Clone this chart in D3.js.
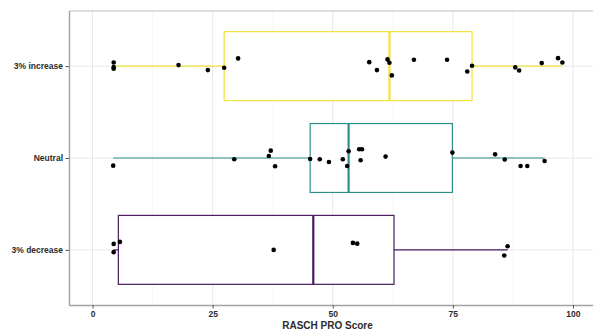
<!DOCTYPE html>
<html>
<head>
<meta charset="utf-8">
<script src="https://cdn.jsdelivr.net/npm/d3@7"></script>
<style>
  body { margin: 0; background: #fff; }
  svg { display: block; font-family: "Liberation Sans", Arial, sans-serif; }
  .tick text { font-weight: bold; fill: #2b2b2b; font-size: 8.5px; }
</style>
</head>
<body>
<svg width="593" height="331"></svg>
<script>
const categories = ["3% increase", "Neutral", "3% decrease"];
const colors = ["#f2e339", "#2c8f8a", "#4a1a5c"];
const xTicks = [0, 25, 50, 75, 100];

// scores per group, jitter in category units (positive = downward)
const increaseScores = [4.4, 4.4, 4.4, 17.9, 24.0, 27.4, 30.3, 57.6, 59.2, 61.4, 61.8, 62.3, 66.9, 73.8, 78.0, 79.0, 88.0, 88.8, 93.5, 96.9, 97.8];
const increaseJitter = [-0.040, 0.011, 0.028, -0.011, 0.043, 0.017, -0.084, -0.043, 0.043, -0.073, -0.037, 0.101, -0.070, -0.070, 0.058, -0.004, 0.014, 0.047, -0.033, -0.087, -0.040];
const neutralScores = [4.3, 29.5, 36.7, 37.1, 38.0, 45.3, 47.3, 49.2, 52.1, 53.0, 53.3, 55.5, 55.8, 56.1, 61.0, 74.9, 83.8, 85.8, 89.1, 90.5, 94.1];
const neutralJitter = [0.083, 0.014, -0.022, -0.080, 0.090, 0.011, 0.014, 0.043, 0.014, 0.087, -0.073, -0.095, 0.025, -0.095, -0.015, -0.059, -0.040, 0.017, 0.087, 0.087, 0.033];
const decreaseScores = [4.4, 4.4, 5.7, 37.7, 54.2, 55.1, 85.7, 86.4];
const decreaseJitter = [-0.065, 0.025, -0.087, 0.0, -0.076, -0.068, 0.062, -0.040];

const groups = [
  { name: categories[0], scores: increaseScores, jitter: increaseJitter, color: colors[0] },
  { name: categories[1], scores: neutralScores, jitter: neutralJitter, color: colors[1] },
  { name: categories[2], scores: decreaseScores, jitter: decreaseJitter, color: colors[2] }
];

const svg = d3.select("svg");
const mLeft = 69, mRight = 596, mTop = 11, mBottom = 305;

const x = d3.scaleLinear().domain([-4.9, 104.8]).range([mLeft, mRight]);
const y = d3.scalePoint().domain(categories).range([mTop, mBottom]).padding(0.6);
const step = y.step();

// grid
const grid = svg.append("g");
grid.selectAll(".minor").data(d3.range(-12.5, 110, 25).filter(v => x(v) > mLeft))
  .enter().append("line")
  .attr("x1", d => x(d)).attr("x2", d => x(d)).attr("y1", mTop).attr("y2", mBottom)
  .attr("stroke", "#f2f2f2").attr("stroke-width", 0.6);
grid.selectAll(".major").data(xTicks)
  .enter().append("line")
  .attr("x1", d => x(d)).attr("x2", d => x(d)).attr("y1", mTop).attr("y2", mBottom)
  .attr("stroke", "#e8e8e8").attr("stroke-width", 1);
grid.selectAll(".hy").data(categories)
  .enter().append("line")
  .attr("x1", mLeft).attr("x2", mRight).attr("y1", d => y(d)).attr("y2", d => y(d))
  .attr("stroke", "#e8e8e8").attr("stroke-width", 1);

// boxplots
const boxH = step * 0.75;
groups.forEach(g => {
  const s = g.scores.slice().sort(d3.ascending);
  const q1 = d3.quantile(s, 0.25), med = d3.quantile(s, 0.5), q3 = d3.quantile(s, 0.75);
  const iqr = q3 - q1;
  const lo = d3.min(s.filter(v => v >= q1 - 1.5 * iqr));
  const hi = d3.max(s.filter(v => v <= q3 + 1.5 * iqr));
  const cy = y(g.name);
  const b = svg.append("g").attr("stroke", g.color).attr("fill", "none");
  b.append("line").attr("x1", x(lo)).attr("x2", x(q1)).attr("y1", cy).attr("y2", cy).attr("stroke-width", 1.2);
  b.append("line").attr("x1", x(q3)).attr("x2", x(hi)).attr("y1", cy).attr("y2", cy).attr("stroke-width", 1.2);
  b.append("rect").attr("x", x(q1)).attr("y", cy - boxH / 2)
    .attr("width", x(q3) - x(q1)).attr("height", boxH)
    .attr("fill", "#fff").attr("stroke-width", 1.2);
  b.append("line").attr("x1", x(med)).attr("x2", x(med))
    .attr("y1", cy - boxH / 2).attr("y2", cy + boxH / 2).attr("stroke-width", 2.2);
});

// points
groups.forEach(g => {
  svg.append("g").selectAll("circle")
    .data(g.scores.map((v, i) => ({ v, j: g.jitter[i] })))
    .enter().append("circle")
    .attr("cx", d => x(d.v))
    .attr("cy", d => y(g.name) + d.j * step)
    .attr("r", 2.3)
    .attr("fill", "#000");
});

// panel border
svg.append("line").attr("x1", mLeft).attr("x2", 593).attr("y1", mTop).attr("y2", mTop)
  .attr("stroke", "#bdbdbd").attr("stroke-width", 1);

// axes
const xAxis = svg.append("g")
  .attr("transform", `translate(0,${mBottom})`)
  .call(d3.axisBottom(x).tickValues(xTicks).tickSize(3.5).tickPadding(2));
const yAxis = svg.append("g")
  .attr("transform", `translate(${mLeft},0)`)
  .call(d3.axisLeft(y).tickSize(3.5).tickPadding(2.5));
[xAxis, yAxis].forEach(a => {
  a.select(".domain").attr("stroke", "#a3a3a3").attr("stroke-width", 1.4);
  a.selectAll(".tick line").attr("stroke", "#555");
});
xAxis.select(".domain").attr("d", `M${mLeft},0.5H593`);
yAxis.select(".domain").attr("d", `M0.5,${mTop}V${mBottom}`);

svg.append("text")
  .attr("x", (mLeft + 586) / 2)
  .attr("y", 329)
  .attr("text-anchor", "middle")
  .attr("font-weight", "bold")
  .attr("font-size", "10px")
  .attr("fill", "#2b2b2b")
  .text("RASCH PRO Score");
</script>
</body>
</html>
